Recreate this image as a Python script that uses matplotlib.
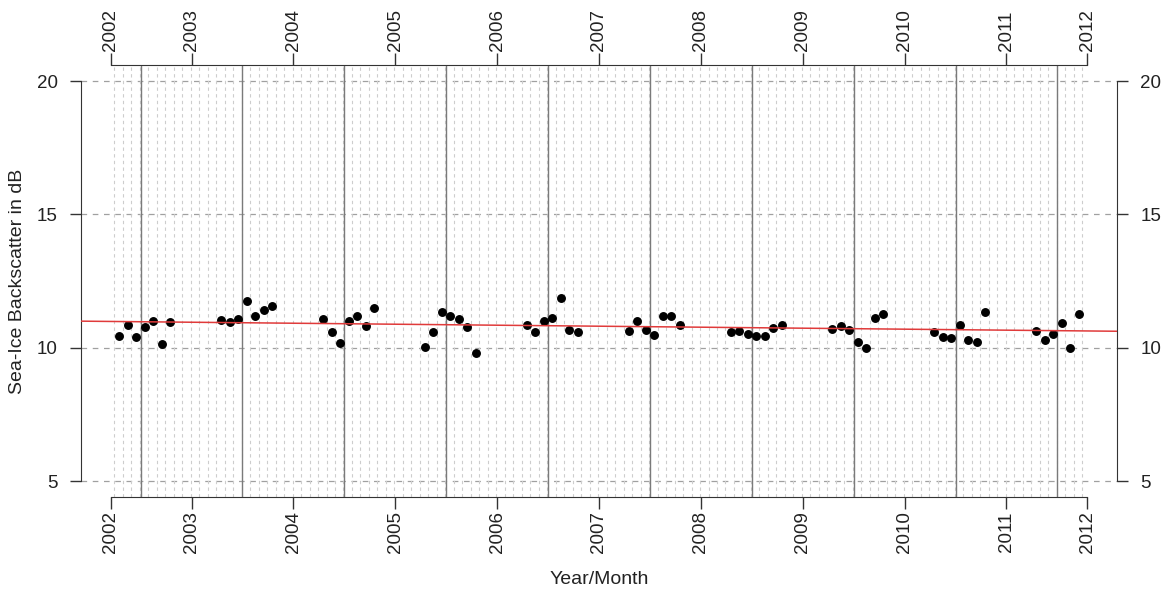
import matplotlib.pyplot as plt
import numpy as np

plt.rcParams['font.family'] = ['Liberation Sans', 'DejaVu Sans']

# month index of every observation (0 = first month on record)
month = [0, 1, 2, 3, 4, 5, 6,
         12, 13, 14, 15, 16, 17, 18,
         24, 25, 26, 27, 28, 29, 30,
         36, 37, 38, 39, 40, 41, 42,
         48, 49, 50, 51, 52, 53, 54,
         60, 61, 62, 63, 64, 65, 66,
         72, 73, 74, 75, 76, 77, 78,
         84, 85, 86, 87, 88, 89, 90,
         96, 97, 98, 99, 100, 101, 102,
         108, 109, 110, 111, 112, 113]

# sea-ice backscatter in dB
backscatter = [10.42, 10.85, 10.39, 10.79, 10.99, 10.12, 10.95,
               11.02, 10.95, 11.09, 11.76, 11.17, 11.42, 11.57,
               11.08, 10.60, 10.19, 11.00, 11.19, 10.80, 11.47,
               10.04, 10.60, 11.35, 11.19, 11.06, 10.76, 9.80,
               10.86, 10.58, 10.99, 11.12, 11.88, 10.67, 10.60,
               10.61, 11.00, 10.67, 10.49, 11.19, 11.19, 10.86,
               10.58, 10.63, 10.53, 10.45, 10.45, 10.75, 10.86,
               10.69, 10.82, 10.67, 10.23, 9.99, 11.10, 11.25,
               10.60, 10.39, 10.38, 10.86, 10.29, 10.21, 11.34,
               10.63, 10.30, 10.53, 10.93, 9.97, 11.25]

year_labels = ['2002', '2003', '2004', '2005', '2006', '2007',
               '2008', '2009', '2010', '2011', '2012']
year_tick_pos = [-1, 8.5, 20.5, 32.5, 44.5, 56.5, 68.5, 80.5, 92.5, 104.5, 114]
year_breaks = [2.5, 14.5, 26.5, 38.5, 50.5, 62.5, 74.5, 86.5, 98.5, 110.5]
month_grid = [m + 0.4 for m in range(-1, 114)]
db_ticks = [5, 10, 15, 20]

# linear trend
trend_intercept = 10.98
trend_slope = -0.0031

fig = plt.figure(figsize=(11.7, 5.94), dpi=100)
ax = fig.add_axes([81 / 1170, 1 - 497 / 594, (1117 - 81) / 1170, (497 - 65) / 594])

# R style range: data range plus 4 % on each side
lo, hi = min(month), max(month)
ext = 0.04 * (hi - lo)
ax.set_xlim(lo - ext, hi + ext)
ax.set_ylim(5 - 0.04 * 15, 20 + 0.04 * 15)

# grid
for y in db_ticks:
    ax.axhline(y, color='#a0a0a0', lw=0.9, dashes=(4.5, 4.5), zorder=1)
ax.vlines(month_grid, 5 - 0.6, 20 + 0.6, colors='#cdcdcd', lw=0.8,
          linestyles=(0, (3, 3)), zorder=1)
for x in year_breaks:
    ax.axvline(x, color='#7a7a7a', lw=1.0, zorder=2)

# data and trend
ax.plot(month, backscatter, 'o', color='black', ms=5.4, zorder=4)
ax.axline((0, trend_intercept), slope=trend_slope, color='#e03a3a', lw=1.1, zorder=5)

# detached R style axes
axis_col = '#333333'
for side in ['left', 'right']:
    ax.spines[side].set_bounds(db_ticks[0], db_ticks[-1])
    ax.spines[side].set_color(axis_col)
for side in ['top', 'bottom']:
    ax.spines[side].set_bounds(year_tick_pos[0], year_tick_pos[-1])
    ax.spines[side].set_color(axis_col)

ax.set_yticks(db_ticks)
ax.set_yticklabels([str(v) for v in db_ticks])
ax.set_xticks(year_tick_pos)
ax.set_xticklabels(year_labels)

ax.tick_params(axis='y', left=True, right=True, labelleft=True, labelright=True,
               length=7.7, width=1, pad=9, labelsize=13.5, color=axis_col,
               labelcolor='#222222')
ax.tick_params(axis='x', top=True, bottom=True, labeltop=True, labelbottom=True,
               length=8.4, width=1, pad=2, labelsize=13.5, labelrotation=90,
               color=axis_col, labelcolor='#222222')

fig.text(17.5 / 1170, 1 - 281 / 594, 'Sea-Ice Backscatter in dB', rotation=90,
         ha='center', va='center', fontsize=14, color='#222222')
fig.text(599 / 1170, 1 - 580 / 594, 'Year/Month', ha='center', va='center',
         fontsize=14, color='#222222')

fig.savefig('out.png', dpi=100, facecolor='white')
